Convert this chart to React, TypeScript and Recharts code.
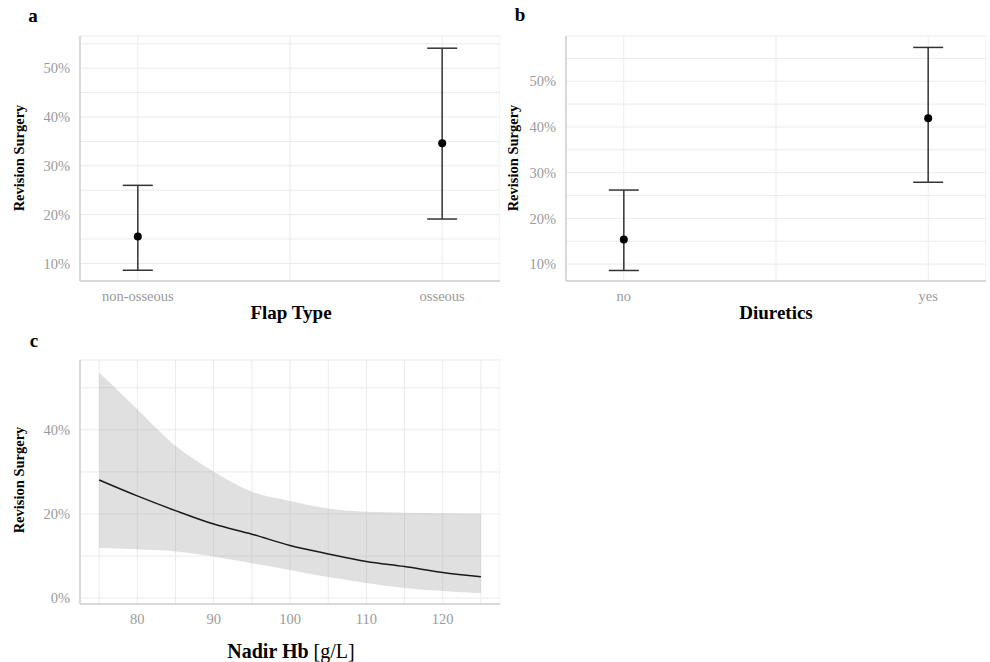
import React from 'react';
import {
  ComposedChart,
  Scatter,
  ErrorBar,
  Area,
  Line,
  XAxis,
  YAxis,
  CartesianGrid,
} from 'recharts';

// ---------------------------------------------------------------------------
// Data (percent)
// ---------------------------------------------------------------------------

const flapCategories = ['non-osseous', 'osseous'];
const flapEstimate = [15.5, 34.6];
const flapLower = [8.6, 19.1];
const flapUpper = [26.0, 54.1];

const diureticCategories = ['no', 'yes'];
const diureticEstimate = [15.4, 41.9];
const diureticLower = [8.6, 27.9];
const diureticUpper = [26.2, 57.4];

const hbValues = [75, 80, 85, 90, 95, 100, 105, 110, 115, 120, 125];
const hbEstimate = [28.1, 24.3, 20.8, 17.6, 15.2, 12.5, 10.5, 8.7, 7.5, 6.1, 5.1];
const hbLower = [11.9, 11.6, 11.1, 9.9, 8.3, 6.7, 5.0, 3.6, 2.4, 1.7, 1.2];
const hbUpper = [53.6, 44.9, 36.2, 30.1, 25.3, 23.1, 21.3, 20.5, 20.3, 20.2, 20.1];

// major + minor grid values
const pctTicksA = [10, 15, 20, 25, 30, 35, 40, 45, 50, 55];
const pctTicksB = [10, 15, 20, 25, 30, 35, 40, 45, 50, 55];
const pctTicksC = [0, 10, 20, 30, 40, 50];
const catTicks = [1, 1.5, 2];
const hbTicks = [75, 80, 85, 90, 95, 100, 105, 110, 115, 120, 125];

const FONT = '"Liberation Serif", "DejaVu Serif", serif';
const GRID = '#ebebeb';
const AXIS = '#cfcfcf';
const TICK = { fill: '#9a9a9a', fontSize: 14.5, fontFamily: FONT };

function buildRows(est: number[], lo: number[], hi: number[]) {
  return est.map((v, i) => ({ x: i + 1, y: v, err: [v - lo[i], hi[i] - v] }));
}

const dot = (p: any) => <circle cx={p.cx} cy={p.cy} r={4} fill="#000" />;

interface CatPanelProps {
  categories: string[];
  est: number[];
  lo: number[];
  hi: number[];
  yDomain: [number, number];
  yTicks: number[];
}

function CategoryPanel({ categories, est, lo, hi, yDomain, yTicks }: CatPanelProps) {
  const rows = buildRows(est, lo, hi);
  return (
    <ComposedChart width={500} height={320} margin={{ top: 36, right: 0, left: 20, bottom: 9 }}>
      <CartesianGrid stroke={GRID} strokeWidth={1} />
      <XAxis
        type="number"
        dataKey="x"
        domain={[0.81, 2.19]}
        ticks={catTicks}
        allowDataOverflow
        tickFormatter={(v) => (v === 1 ? categories[0] : v === 2 ? categories[1] : '')}
        tick={TICK}
        tickSize={0}
        tickMargin={10}
        height={30}
        axisLine={{ stroke: AXIS, strokeWidth: 1.5 }}
      />
      <YAxis
        type="number"
        dataKey="y"
        domain={yDomain}
        ticks={yTicks}
        allowDataOverflow
        tickFormatter={(v) => (v % 10 === 0 ? `${v}%` : '')}
        tick={TICK}
        tickSize={0}
        tickMargin={10}
        width={60}
        axisLine={{ stroke: AXIS, strokeWidth: 1.5 }}
      />
      <Scatter data={rows} shape={dot} isAnimationActive={false}>
        <ErrorBar
          dataKey="err"
          direction="y"
          width={15}
          stroke="#333"
          strokeWidth={1.5}
          isAnimationActive={false}
        />
      </Scatter>
    </ComposedChart>
  );
}

function HbPanel() {
  const rows = hbValues.map((hb, i) => ({
    hb,
    est: hbEstimate[i],
    band: [hbLower[i], hbUpper[i]],
  }));
  return (
    <ComposedChart
      width={500}
      height={660}
      data={rows}
      margin={{ top: 360, right: 0, left: 20, bottom: 26 }}
    >
      <CartesianGrid stroke={GRID} strokeWidth={1} />
      <XAxis
        type="number"
        dataKey="hb"
        domain={[72.5, 127.5]}
        ticks={hbTicks}
        allowDataOverflow
        tickFormatter={(v) => (v % 10 === 0 ? `${v}` : '')}
        tick={TICK}
        tickSize={0}
        tickMargin={10}
        height={30}
        axisLine={{ stroke: AXIS, strokeWidth: 1.5 }}
      />
      <YAxis
        type="number"
        domain={[-1.4, 56.6]}
        ticks={pctTicksC}
        allowDataOverflow
        tickFormatter={(v) => (v % 20 === 0 ? `${v}%` : '')}
        tick={TICK}
        tickSize={0}
        tickMargin={10}
        width={60}
        axisLine={{ stroke: AXIS, strokeWidth: 1.5 }}
      />
      <Area
        type="monotone"
        dataKey="band"
        stroke="none"
        fill="#999999"
        fillOpacity={0.3}
        isAnimationActive={false}
      />
      <Line
        type="monotone"
        dataKey="est"
        stroke="#1a1a1a"
        strokeWidth={1.5}
        dot={false}
        isAnimationActive={false}
      />
    </ComposedChart>
  );
}

const abs = (x: number, y: number): React.CSSProperties => ({
  position: 'absolute',
  left: x,
  top: y,
  transform: 'translate(-50%, -50%)',
  whiteSpace: 'nowrap',
  fontFamily: FONT,
  color: '#000',
});

const letter = (x: number, y: number): React.CSSProperties => ({
  ...abs(x, y),
  fontWeight: 'bold',
  fontSize: 19,
});

const yTitle = (x: number, y: number): React.CSSProperties => ({
  ...abs(x, y),
  transform: 'translate(-50%, -50%) rotate(-90deg)',
  fontWeight: 'bold',
  fontSize: 14.5,
});

const xTitle = (x: number, y: number): React.CSSProperties => ({
  ...abs(x, y),
  fontWeight: 'bold',
  fontSize: 19,
});

export default function App() {
  return (
    <div
      style={{
        position: 'absolute',
        left: 0,
        top: 0,
        width: 990,
        height: 662,
        background: '#fff',
        overflow: 'hidden',
      }}
    >
      <div style={{ position: 'absolute', left: 0, top: 0 }}>
        <CategoryPanel
          categories={flapCategories}
          est={flapEstimate}
          lo={flapLower}
          hi={flapUpper}
          yDomain={[6.4, 56.6]}
          yTicks={pctTicksA}
        />
      </div>
      <div style={{ position: 'absolute', left: 486, top: 0 }}>
        <CategoryPanel
          categories={diureticCategories}
          est={diureticEstimate}
          lo={diureticLower}
          hi={diureticUpper}
          yDomain={[6.3, 59.9]}
          yTicks={pctTicksB}
        />
      </div>
      <div style={{ position: 'absolute', left: 0, top: 0 }}>
        <HbPanel />
      </div>

      <div style={letter(33, 16)}>a</div>
      <div style={letter(520, 15)}>b</div>
      <div style={letter(34, 341)}>c</div>

      <div style={yTitle(19, 158)}>Revision Surgery</div>
      <div style={yTitle(513, 158)}>Revision Surgery</div>
      <div style={yTitle(19, 480)}>Revision Surgery</div>

      <div style={xTitle(291, 313)}>Flap Type</div>
      <div style={xTitle(776, 313)}>Diuretics</div>
      <div style={{ ...xTitle(291, 651), fontSize: 20 }}>
        Nadir Hb <span style={{ fontWeight: 'normal' }}>[g/L]</span>
      </div>
    </div>
  );
}
